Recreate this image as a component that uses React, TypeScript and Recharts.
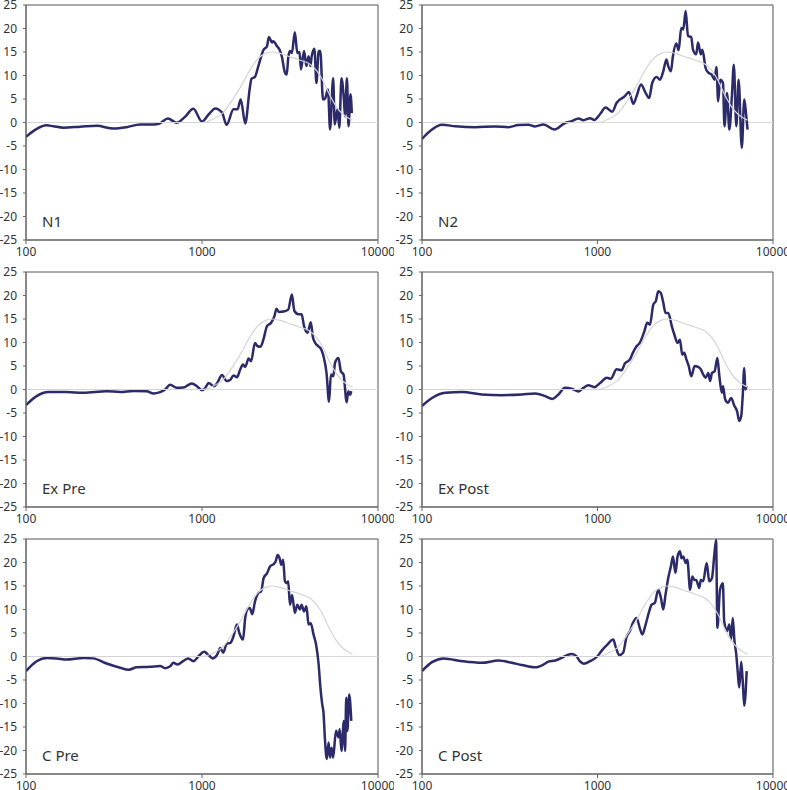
import { LineChart, Line, XAxis, YAxis, ReferenceLine, ReferenceArea } from "recharts";

// ─── Data: [frequency Hz, dB] ────────────────────────────────────────────────

const REF: [number, number][] = [
  [100, 0], [1000, 0], [1150, 0.7], [1310, 2], [1500, 5], [1670, 7.8], [1860, 11],
  [2080, 13.6], [2320, 14.75], [2500, 15], [2740, 14.75], [3150, 14], [3580, 13.3],
  [4110, 12.4], [4490, 11], [4870, 8.9], [5290, 6], [5770, 3.5], [6300, 1.8],
  [6860, 0.85], [7160, 0.5],
];

const N1: [number, number][] = [
  [100, -3.05], [115, -1.35], [131, -0.6], [143, -0.8], [163, -1.1], [203, -0.9],
  [252, -0.7], [314, -1.3], [373, -1.0], [445, -0.4], [530, -0.4], [574, -0.2],
  [640, 0.85], [718, -0.05], [800, 1.2], [893, 2.9], [1000, 0.2], [1090, 1.7],
  [1190, 3.0], [1300, 2.1], [1380, -0.5], [1510, 2.8], [1590, 2.8], [1660, 4.9],
  [1760, -0.2], [1870, 7.4], [1910, 9.3], [2000, 9.7], [2090, 12], [2240, 15.5],
  [2340, 16.2], [2400, 18.2], [2500, 17], [2540, 17.3], [2670, 16.2], [2760, 15.5],
  [2840, 14.1], [2960, 10.6], [3030, 10.2], [3090, 13.8], [3160, 15.2], [3240, 14.8],
  [3370, 19.2], [3480, 14.8], [3580, 15], [3650, 11.3], [3800, 15.2], [3920, 12],
  [4030, 14.1], [4130, 12], [4200, 14.1], [4350, 15.7], [4470, 8.4], [4600, 15.2],
  [4700, 15.2], [4870, 4.9], [5000, 5.1], [5200, 7], [5340, -1.5], [5560, 9.4],
  [5680, -0.4], [5880, 2.8], [6030, -1.1], [6200, 9.4], [6400, 4.9], [6500, 1.3],
  [6660, 9.4], [6800, -0.8], [6980, 6], [7100, 2],
];

const N2: [number, number][] = [
  [100, -3.5], [114, -1.5], [130, -0.5], [155, -0.8], [201, -1.0], [261, -0.85],
  [311, -1.0], [354, -0.55], [404, -0.5], [441, -0.85], [493, -0.4], [568, -1.5],
  [653, -0.1], [714, 0.3], [780, 0.85], [832, 0.5], [907, 0.9], [961, 0.55],
  [1035, 1.8], [1112, 3.2], [1213, 2.3], [1286, 4.2], [1431, 5.6], [1510, 6.5],
  [1600, 4.0], [1670, 5.6], [1770, 8.1], [1880, 6.3], [1970, 5.2], [2050, 8.4],
  [2170, 9.7], [2270, 9.1], [2370, 10.9], [2470, 13.4], [2530, 12], [2620, 10.9],
  [2690, 14.1], [2810, 16.8], [2900, 15.4], [3000, 20.1], [3080, 19.8], [3180, 23.7],
  [3280, 18.4], [3420, 18.2], [3500, 15.5], [3650, 14.5], [3740, 17], [3880, 14.5],
  [3960, 15.5], [4130, 11.6], [4280, 10.6], [4470, 10.2], [4650, 9.1], [4760, 11.8],
  [4870, 4.5], [5000, 9.1], [5190, 8.4], [5290, -0.8], [5470, 6.3], [5640, -1.5],
  [5830, 5.6], [5980, 12.3], [6180, -0.8], [6370, 9.1], [6640, -5.4], [6860, 4.9],
  [6980, 2.8], [7160, -1.5],
];

const EX_PRE: [number, number][] = [
  [100, -3.3], [115, -1.4], [134, -0.55], [170, -0.55], [212, -0.7], [287, -0.35],
  [343, -0.55], [408, -0.3], [485, -0.35], [530, -0.85], [578, -0.55], [617, 0],
  [659, 1.0], [718, 0.35], [781, 0.4], [876, 1.3], [935, 0.7], [1000, -0.15],
  [1045, 0.35], [1090, 1.4], [1170, 0.7], [1220, 1.4], [1300, 3.1], [1380, 1.8],
  [1450, 2.1], [1510, 3.0], [1580, 2.6], [1650, 4.3], [1710, 5.3], [1760, 4.8],
  [1840, 6.6], [1900, 6.0], [2000, 9.9], [2070, 9.2], [2150, 9.1], [2240, 10.8],
  [2340, 13.5], [2470, 14.2], [2580, 15.6], [2650, 17.2], [2730, 16.5], [2910, 16.6],
  [3090, 17.0], [3240, 20.2], [3350, 16.7], [3540, 16.0], [3680, 16.0], [3800, 13.5],
  [3980, 12.1], [4150, 14.3], [4260, 11.3], [4400, 9.9], [4580, 9.2], [4760, 8.5],
  [4900, 7.1], [5100, 3.5], [5270, -2.6], [5400, 3.2], [5570, 2.8], [5700, 5.7],
  [5960, 6.7], [6150, 3.9], [6370, 3.2], [6640, -2.7], [6780, -0.35], [6940, -1.1],
  [7050, -0.35],
];

const EX_POST: [number, number][] = [
  [100, -3.5], [114, -1.8], [136, -0.7], [169, -0.55], [219, -1.05], [285, -1.2],
  [370, -1.05], [441, -0.85], [503, -1.4], [553, -2.0], [599, -1.05], [653, 0.35],
  [714, 0.15], [780, -0.4], [832, 0.35], [886, 0.9], [961, 0.5], [1035, 1.4],
  [1130, 2.5], [1190, 2.3], [1286, 4.3], [1373, 4.1], [1430, 5.5], [1530, 6.4],
  [1590, 7.8], [1670, 9.2], [1740, 9.9], [1850, 12.4], [1920, 14.2], [1990, 13.8],
  [2080, 18.1], [2150, 18.8], [2220, 20.9], [2290, 20.6], [2370, 18.5], [2440, 16.3],
  [2530, 16.3], [2650, 13.5], [2740, 11.7], [2860, 9.9], [2950, 10.6], [3040, 7.4],
  [3120, 7.8], [3210, 6.4], [3310, 5.0], [3420, 2.8], [3580, 5.0], [3740, 4.8],
  [3880, 4.3], [4000, 3.2], [4130, 2.5], [4280, 3.5], [4380, 1.8], [4490, 3.5],
  [4650, 3.9], [4820, 6.7], [4950, 2.8], [5110, -0.7], [5190, 0.7], [5340, -2.1],
  [5550, -2.8], [5770, -1.8], [6030, -3.5], [6240, -4.6], [6420, -6.7], [6590, -5.7],
  [6720, -1.4], [6860, 4.6], [6950, 0], [7080, 0.7],
];

const C_PRE: [number, number][] = [
  [100, -3.1], [115, -1.0], [131, -0.3], [149, -0.4], [170, -0.65], [212, -0.3],
  [241, -0.4], [287, -1.5], [343, -2.4], [383, -2.8], [426, -2.3], [507, -2.2],
  [578, -2.0], [617, -2.5], [659, -2.1], [688, -1.35], [726, -1.7], [781, -1.0],
  [835, -0.4], [893, -1.0], [955, 0.05], [1030, 1.0], [1090, 0.3], [1150, -0.4],
  [1220, 0.4], [1270, 1.8], [1320, 0.8], [1380, 2.7], [1450, 2.9], [1510, 4.3],
  [1580, 6.8], [1630, 5.0], [1710, 3.6], [1760, 8.2], [1810, 10.0], [1870, 10.3],
  [1930, 9.0], [2000, 11.7], [2090, 13.5], [2170, 13.9], [2240, 16.7], [2340, 17.7],
  [2440, 19.2], [2540, 19.6], [2620, 20.2], [2690, 21.6], [2760, 20.9], [2820, 19.5],
  [2890, 20.6], [2960, 16.0], [3030, 15.6], [3090, 16.0], [3160, 11.0], [3250, 13.1],
  [3370, 9.3], [3480, 11.0], [3600, 10.0], [3680, 11.0], [3800, 9.6], [3920, 10.7],
  [4030, 6.8], [4150, 7.1], [4300, 4.7], [4450, 2.5], [4600, -1.7], [4700, -6.3],
  [4820, -10.2], [4900, -11.9], [5000, -17.9], [5120, -21.8], [5240, -18.3],
  [5340, -21.5], [5450, -19.4], [5560, -21.5], [5770, -15.8], [5960, -17.2],
  [6060, -15.5], [6200, -20.1], [6400, -13.7], [6500, -20.1], [6600, -8.8],
  [6700, -15.8], [6860, -8.1], [7050, -13.7],
];

const C_POST: [number, number][] = [
  [100, -3.1], [114, -1.2], [133, -0.4], [169, -1.0], [219, -1.35], [273, -0.85],
  [325, -1.35], [370, -1.8], [441, -2.3], [493, -1.7], [525, -1.1], [575, -0.85],
  [625, -0.3], [670, 0.3], [714, 0.55], [760, 0.05], [793, -1.0], [835, -1.55],
  [907, -1.0], [1000, 0.05], [1060, 1.3], [1130, 2.4], [1230, 3.6], [1270, 2.0],
  [1330, 0.3], [1400, 0.8], [1460, 4.0], [1530, 5.4], [1590, 7.1], [1670, 8.2],
  [1740, 6.1], [1800, 4.7], [1880, 6.8], [1970, 9.6], [2030, 11.0], [2120, 11.4],
  [2220, 14.2], [2300, 12.4], [2370, 10.0], [2440, 13.1], [2530, 16.7], [2620, 19.2],
  [2690, 21.3], [2780, 17.8], [2860, 21.3], [2950, 22.4], [3010, 20.9], [3080, 21.3],
  [3180, 19.9], [3250, 20.6], [3370, 14.2], [3470, 17.0], [3560, 16.3], [3650, 16.3],
  [3800, 14.6], [3880, 16.3], [4000, 16.0], [4190, 19.9], [4330, 16.0], [4490, 16.7],
  [4630, 21.6], [4740, 24.8], [4820, 6.1], [4990, 14.2], [5180, 15.6], [5270, 7.5],
  [5470, 5.4], [5640, 6.8], [5770, 3.6], [5900, 8.2], [6030, 3.3], [6160, 0.8],
  [6290, -3.1], [6420, -6.6], [6590, -1.1], [6720, -5.2], [6860, -10.5], [7080, -3.1],
];

const X_TICKS = [100, 1000, 10000];
const Y_TICKS = [-25, -20, -15, -10, -5, 0, 5, 10, 15, 20, 25];

const PANELS = [
  { label: "N1", series: N1 },
  { label: "N2", series: N2 },
  { label: "Ex Pre", series: EX_PRE },
  { label: "Ex Post", series: EX_POST },
  { label: "C Pre", series: C_PRE },
  { label: "C Post", series: C_POST },
];

// ─── Helpers ─────────────────────────────────────────────────────────────────

const toPoints = (pairs: [number, number][]) => pairs.map(([f, v]) => ({ f, v }));
const REF_POINTS = toPoints(REF);

const FONT = "'Noto Sans', 'Open Sans', sans-serif";
const tickStyle = { fontSize: 12, fill: "#333", fontFamily: FONT };

function Panel({ label, series, left, top, width, right }: {
  label: string;
  series: [number, number][];
  left: number;
  top: number;
  width: number;
  right: number;
}) {
  return (
    <div style={{ position: "absolute", left, top, width, height: 262 }}>
      <LineChart
        width={width}
        height={262}
        margin={{ top: 6, right, left: 0, bottom: 0 }}
        style={{ overflow: "visible" }}
      >
        <XAxis
          dataKey="f"
          type="number"
          scale="log"
          domain={[100, 10000]}
          ticks={X_TICKS}
          allowDataOverflow
          height={21}
          tick={tickStyle}
          tickSize={4}
          tickMargin={3}
          stroke="#666"
          interval={0}
        />
        <YAxis
          type="number"
          domain={[-25, 25]}
          ticks={Y_TICKS}
          allowDataOverflow
          width={26}
          tick={tickStyle}
          tickSize={3}
          tickMargin={6}
          stroke="#666"
          interval={0}
        />
        <ReferenceArea
          x1={100}
          x2={10000}
          y1={-25}
          y2={25}
          fill="none"
          stroke="#555"
          strokeWidth={1}
        />
        <ReferenceLine y={0} stroke="#d9d9d9" strokeWidth={1.2} />
        <Line
          data={toPoints(series)}
          dataKey="v"
          type="monotone"
          stroke="#2c2a69"
          strokeWidth={2.5}
          dot={false}
          isAnimationActive={false}
        />
        <Line
          data={REF_POINTS}
          dataKey="v"
          type="monotone"
          stroke="#d4d4d8"
          strokeWidth={1.2}
          dot={false}
          isAnimationActive={false}
        />
      </LineChart>
      <div
        style={{
          position: "absolute",
          left: 42,
          top: 212,
          fontFamily: FONT,
          fontSize: 15,
          color: "#333",
          whiteSpace: "nowrap",
        }}
      >
        {label}
      </div>
    </div>
  );
}

export default function App() {
  return (
    <div
      style={{
        position: "absolute",
        left: 0,
        top: 0,
        width: 787,
        height: 790,
        background: "#fff",
        overflow: "hidden",
      }}
    >
      {PANELS.map((p, i) => {
        const col = i % 2;
        const row = Math.floor(i / 2);
        return (
          <Panel
            key={p.label}
            label={p.label}
            series={p.series}
            left={col === 0 ? 0 : 396}
            top={row * 267 - 1}
            width={col === 0 ? 394 : 391}
            right={col === 0 ? 16 : 14}
          />
        );
      })}
    </div>
  );
}
